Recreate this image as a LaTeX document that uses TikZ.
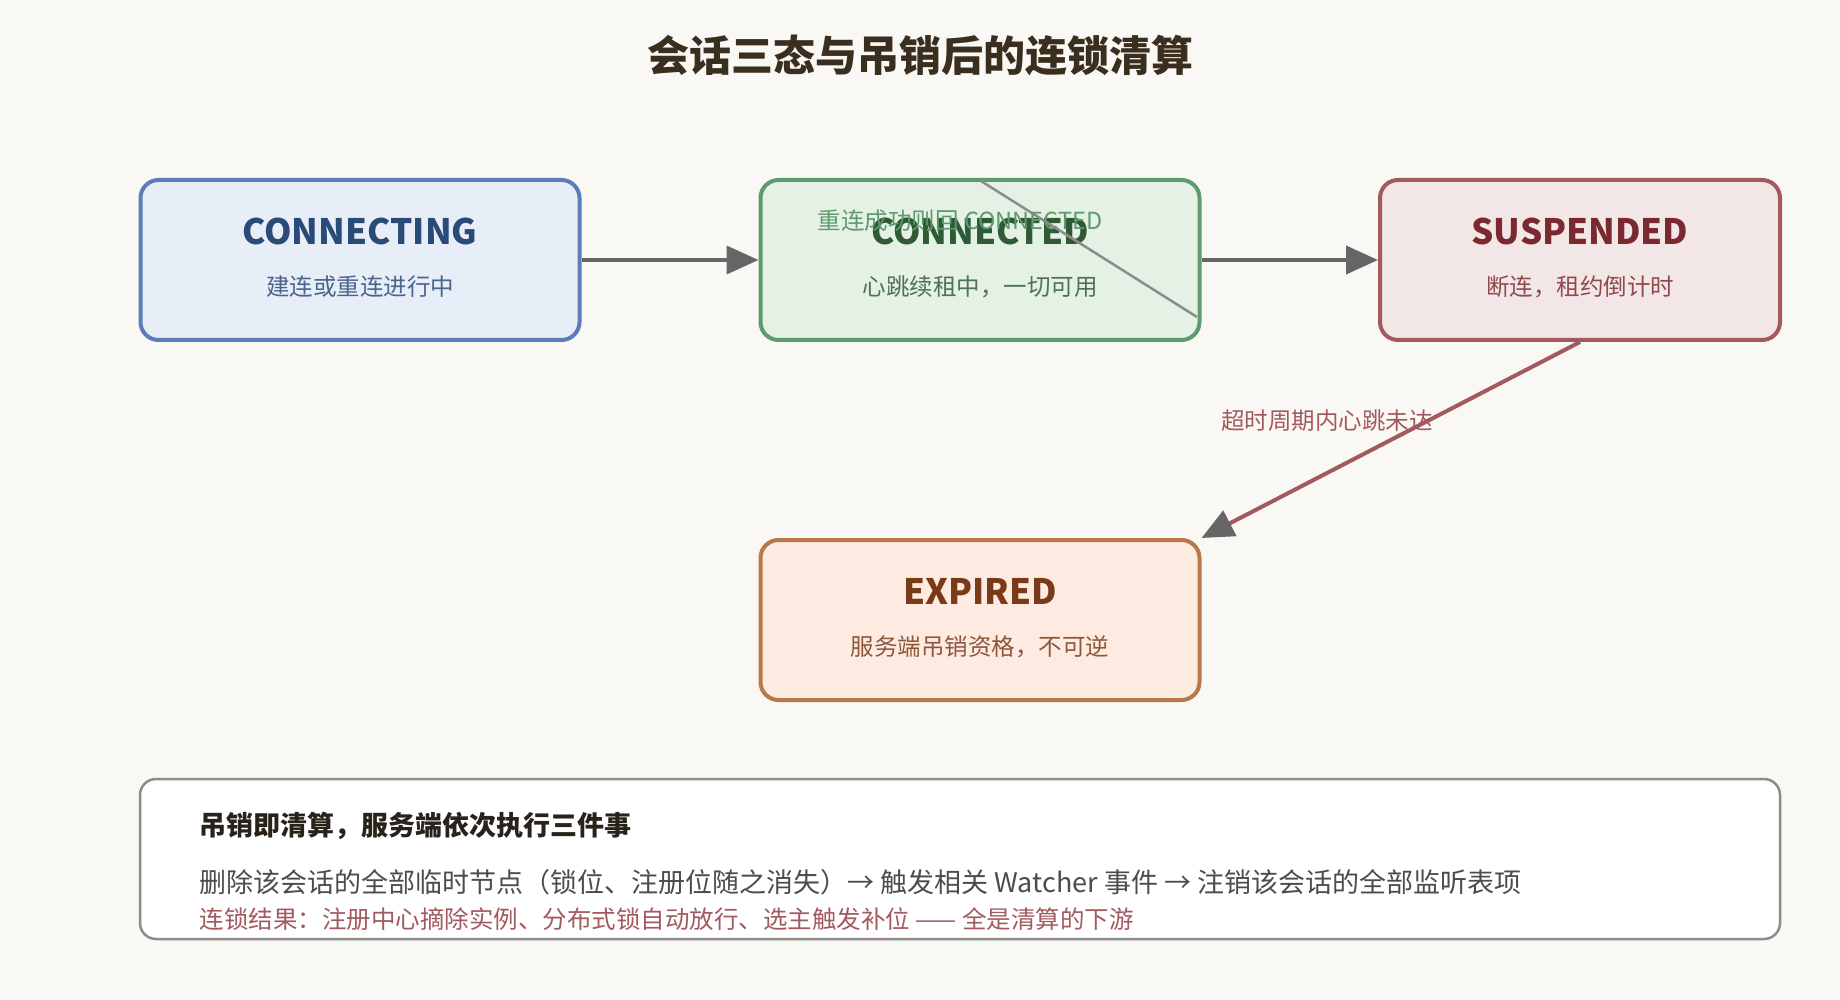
\documentclass[tikz,border=0pt]{standalone}
\usepackage{fontspec}
\setmainfont{Noto Sans CJK SC}
\usetikzlibrary{arrows.meta}
\definecolor{bg}{HTML}{FAF8F4}
\definecolor{bS}{HTML}{5B7DB8}\definecolor{bF}{HTML}{E8EEF8}\definecolor{bT}{HTML}{2A4A78}
\definecolor{gS}{HTML}{5E9A6E}\definecolor{gF}{HTML}{E5F1E5}\definecolor{gT}{HTML}{2E5A35}
\definecolor{rS}{HTML}{A35A5E}\definecolor{rF}{HTML}{F3E6E6}\definecolor{rT}{HTML}{7A2A2E}
\definecolor{oS}{HTML}{B8784A}\definecolor{oF}{HTML}{FDEAE0}\definecolor{oT}{HTML}{7A3A1A}
\definecolor{ag}{HTML}{666666}
\begin{document}
\begin{tikzpicture}[x=1pt,y=-1pt,
 st/.style={draw=#1S,fill=#1F,line width=4pt,rounded corners=18pt,minimum width=439pt,minimum height=160pt},
 ttl/.style={text=#1T,font=\fontsize{35}{40}\selectfont\bfseries},
 sub/.style={text=#1T!85!white,font=\fontsize{23.5}{28}\selectfont},
 arr/.style={line width=4pt,draw=ag,-{Triangle[length=32pt,width=28pt,fill=ag,color=ag]}}]
\useasboundingbox[fill=bg] (0,0) rectangle (1840,1000);
\node (title) at (920,56) {\fontsize{42}{48}\selectfont\bfseries\color[HTML]{3A2E1E}会话三态与吊销后的连锁清算};
\node[st=b] (cing) at (360,260) {};
\node[st=g] (cted) at (980,260) {};
\node[st=r,minimum width=400pt] (susp) at (1580,260) {};
\node[st=o] (exp) at (980,620) {};
\node[ttl=b] (t1) at (360,231) {CONNECTING};
\node[sub=b] (s1) at (360,287) {建连或重连进行中};
\node[ttl=g] (t2) at (980,231) {CONNECTED};
\node[sub=g] (s2) at (980,287) {心跳续租中，一切可用};
\node[ttl=r] (t3) at (1580,231) {SUSPENDED};
\node[sub=r] (s3) at (1580,287) {断连，租约倒计时};
\node[ttl=o] (t4) at (980,591) {EXPIRED};
\node[sub=o] (s4) at (980,647) {服务端吊销资格，不可逆};
\draw[arr] (cing) -- (cted);
\draw[arr] (cted) -- (susp);
\draw[arr,draw=rS] (susp.south) -- (exp.north east);
\coordinate (ga) at (981,181);
\coordinate (gb) at (1197,317);
\draw[line width=2.5pt,draw=black!45] (ga) -- (gb);
\node[text=gS,font=\fontsize{23.5}{28}\selectfont] (lb1) at (960,221) {重连成功则回 CONNECTED};
\node[text=rS,font=\fontsize{23.5}{28}\selectfont] (lb2) at (1327,421) {超时周期内心跳未达};
\node[draw=black!45,fill=white,line width=2.5pt,rounded corners=16pt,minimum width=1640pt,minimum height=160pt] (box) at (960,859) {};
\node[anchor=west,font=\fontsize{27}{30}\selectfont\bfseries,text={rgb,255:red,40;green,34;blue,26}] (h) at (196,826) {吊销即清算，服务端依次执行三件事};
\node[anchor=west,font=\fontsize{27}{30}\selectfont,text=black!70] (l2) at (196,882) {删除该会话的全部临时节点（锁位、注册位随之消失）→ 触发相关 Watcher 事件 → 注销该会话的全部监听表项};
\node[anchor=west,font=\fontsize{24.5}{28}\selectfont,text=rS] (l3) at (196,919) {连锁结果：注册中心摘除实例、分布式锁自动放行、选主触发补位 —— 全是清算的下游};
\end{tikzpicture}
\end{document}
